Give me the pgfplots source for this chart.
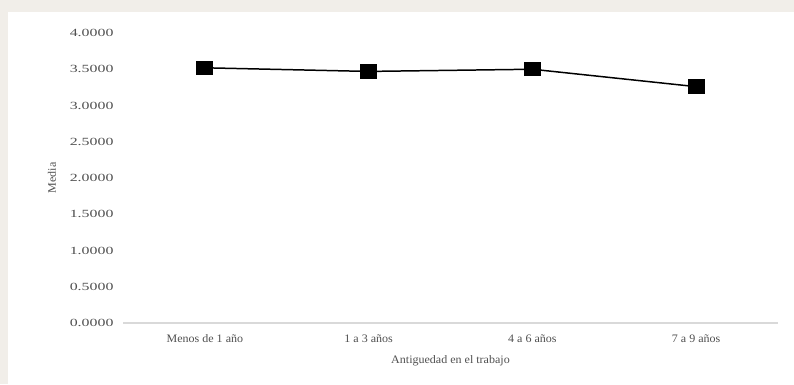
\documentclass[border=0pt]{standalone}
\usepackage{pgfplots}
\pgfplotsset{compat=1.18}
\usepackage{fontspec}
\setmainfont{Liberation Serif}
\newfontfamily\ytickfont[FakeStretch=1.45]{Liberation Serif}
\newfontfamily\xtickfont[FakeStretch=1.05]{Liberation Serif}
\definecolor{txtgray}{HTML}{505050}
\definecolor{axgray}{HTML}{D9D9D9}
\definecolor{pagebg}{HTML}{F1EEE9}

\begin{document}
\begin{tikzpicture}[x=1bp,y=1bp]
  % page backdrop and white chart area
  \fill[pagebg] (0,0) rectangle (794,384);
  \fill[white] (8,0) rectangle (794,372);
  \begin{axis}[
    at={(123bp,61bp)}, anchor=south west,
    scale only axis,
    width=655bp, height=290bp,
    xmin=-0.5, xmax=3.5,
    ymin=0, ymax=4,
    ytick={0,0.5,...,4},
    xtick={0,1,2,3},
    xticklabels={Menos de 1 año, 1 a 3 años, 4 a 6 años, 7 a 9 años},
    axis x line*=bottom,
    axis y line*=left,
    y axis line style={draw=none},
    x axis line style={axgray, line width=1.2pt, -},
    major tick length=0pt,
    /pgf/number format/fixed,
    /pgf/number format/fixed zerofill,
    /pgf/number format/precision=4,
    /pgf/number format/assume math mode=true,
    yticklabel style={font=\ytickfont\fontsize{11}{13}\selectfont, text=txtgray, anchor=east, xshift=-6bp},
    xticklabel style={font=\xtickfont\fontsize{11.5}{13}\selectfont, text=txtgray, yshift=-8bp},
    xlabel={Antiguedad en el trabajo},
    xlabel style={font=\xtickfont\fontsize{11.5}{13}\selectfont, text=txtgray, yshift=-6bp},
    ylabel={Media},
    ylabel style={font=\xtickfont\fontsize{11.5}{13}\selectfont, text=txtgray, yshift=7bp},
    clip=false,
  ]
    \addplot[black, line width=1.5pt, mark=square*, mark size=6.5bp,
             mark options={solid, fill=black, xscale=1.2}]
      coordinates {(0,3.52) (1,3.47) (2,3.50) (3,3.26)};
  \end{axis}
\end{tikzpicture}
\end{document}
